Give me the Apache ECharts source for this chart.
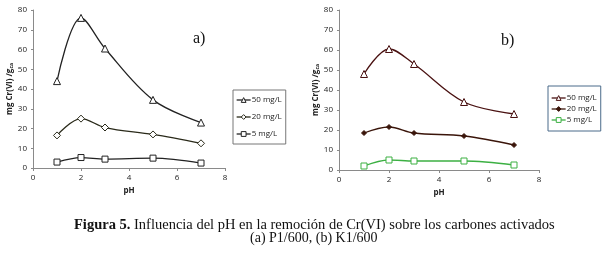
<!DOCTYPE html>
<html>
<head>
<meta charset="utf-8">
<script src="https://cdn.jsdelivr.net/npm/echarts@6/dist/echarts.min.js"></script>
<style>
    html, body { margin: 0; padding: 0; background: #fff; }
    #chart { width: 614px; height: 256px; }
</style>
</head>
<body>
<div id="chart"></div>
<script>
// pH values
var phValues = [1, 2, 3, 5, 7];
// a) P1/600
var p1_50 = [44, 76, 60.5, 34.5, 23];
var p1_20 = [16.5, 25, 20.5, 17, 12.5];
var p1_5 = [3, 5.3, 4.5, 5, 2.5];
// b) K1/600
var k1_50 = [48, 60.5, 53, 34, 28];
var k1_20 = [18.5, 21.5, 18.5, 17, 12.5];
var k1_5 = [2, 5, 4.5, 4.5, 2.5];
var seriesNames = ["50 mg/L", "20 mg/L", "5 mg/L"];

function pairs(ys) {
    var out = [];
    for (var i = 0; i < phValues.length; i++) {
        out.push([phValues[i], ys[i]]);
    }
    return out;
}

var tickFont = {fontFamily: "Open Sans", fontSize: 8, color: "#222"};
var dom = echarts.init(document.getElementById("chart"));

function xAx(idx) {
    return {
        gridIndex: idx, type: "value", min: 0, max: 8, interval: 2,
        name: "pH", nameLocation: "middle", nameGap: 19,
        nameTextStyle: {fontFamily: "Open Sans", fontSize: 8, fontWeight: "bold", color: "#222"},
        axisLine: {lineStyle: {color: "#8a8a8a"}},
        axisTick: {show: true, length: 3, lineStyle: {color: "#8a8a8a"}},
        axisLabel: Object.assign({margin: 6}, tickFont),
        splitLine: {show: false}
    };
}
function yAx(idx) {
    return {
        gridIndex: idx, type: "value", min: 0, max: 80, interval: 10,
        name: "{a|mg Cr(VI) /g}{s|ca}", nameLocation: "middle", nameGap: 19, nameRotate: 90,
        nameTextStyle: {
            rich: {
                a: {fontFamily: "Open Sans", fontSize: 8, fontWeight: "bold", color: "#222"},
                s: {fontFamily: "Open Sans", fontSize: 5, fontWeight: "bold", color: "#222", padding: [4, 0, 0, 0]}
            }
        },
        axisLine: {show: true, lineStyle: {color: "#8a8a8a"}},
        axisTick: {show: true, length: 2, lineStyle: {color: "#8a8a8a"}},
        axisLabel: Object.assign({margin: 6}, tickFont),
        splitLine: {show: false}
    };
}
function line(name, idx, ys, color, symbol, fill, size) {
    return {
        name: name, type: "line", xAxisIndex: idx, yAxisIndex: idx,
        smooth: 0.35, data: pairs(ys), symbol: symbol, symbolSize: size,
        lineStyle: {color: color, width: 1.3},
        itemStyle: {color: fill, borderColor: color, borderWidth: 1},
        z: 3
    };
}
function legendItem(name, color, fill) {
    return {
        name: name,
        itemStyle: {color: fill, borderColor: color, borderWidth: 1},
        lineStyle: {color: color, width: 1.3}
    };
}

var option = {
    animation: false,
    grid: [
        {left: 33, top: 10, width: 192, height: 158},
        {left: 339, top: 10, width: 200, height: 160}
    ],
    xAxis: [xAx(0), xAx(1)],
    yAxis: [yAx(0), yAx(1)],
    legend: [
        {
            left: 233, top: 90, orient: "vertical",
            itemGap: 9, itemWidth: 14, itemHeight: 6, padding: [6, 4, 6, 3],
            borderColor: "#777", borderWidth: 1, selectedMode: false,
            textStyle: {fontFamily: "Open Sans", fontSize: 8, color: "#222", padding: [0, 0, 0, -4]},
            data: [
                legendItem(seriesNames[0], "#222", "#fff"),
                legendItem(seriesNames[1], "#2a2a1a", "#fff"),
                legendItem(seriesNames[2], "#222", "#fff")
            ]
        },
        {
            left: 548, top: 86, orient: "vertical",
            itemGap: 3, itemWidth: 14, itemHeight: 6, padding: [8, 4, 7, 3],
            borderColor: "#4a6a8a", borderWidth: 1, selectedMode: false,
            textStyle: {fontFamily: "Open Sans", fontSize: 8, color: "#222", padding: [0, 0, 0, -4]},
            data: [
                legendItem(seriesNames[0], "#4a1212", "#fff"),
                legendItem(seriesNames[1], "#3a150a", "#3a150a"),
                legendItem(seriesNames[2], "#3cb043", "#fff")
            ]
        }
    ],
    graphic: [
        {type: "text", left: 193, top: 31, style: {text: "a)", font: "16px 'Liberation Serif'", fill: "#111"}},
        {type: "text", left: 501, top: 33, style: {text: "b)", font: "16px 'Liberation Serif'", fill: "#111"}},
        {
            type: "text", left: 74, top: 218,
            style: {
                text: "{b|Figura 5.} Influencia del pH en la remoción de Cr(VI) sobre los carbones activados",
                font: "14.5px 'Liberation Serif'", fill: "#111",
                rich: {b: {fontWeight: "bold", fontFamily: "Liberation Serif", fontSize: 14.5}}
            }
        },
        {type: "text", left: 250, top: 231, style: {text: "(a) P1/600, (b) K1/600", font: "14px 'Liberation Serif'", fill: "#111"}}
    ],
    series: [
        line(seriesNames[0], 0, p1_50, "#222", "triangle", "#fff", 7),
        line(seriesNames[1], 0, p1_20, "#2a2a1a", "diamond", "#fff", 7),
        line(seriesNames[2], 0, p1_5, "#222", "rect", "#fff", 6),
        line(seriesNames[0], 1, k1_50, "#4a1212", "triangle", "#fff", 7),
        line(seriesNames[1], 1, k1_20, "#3a150a", "diamond", "#3a150a", 5),
        line(seriesNames[2], 1, k1_5, "#3cb043", "rect", "#fff", 6)
    ]
};
dom.setOption(option);
window.addEventListener("resize", function () { dom.resize(); });
</script>
</body>
</html>
